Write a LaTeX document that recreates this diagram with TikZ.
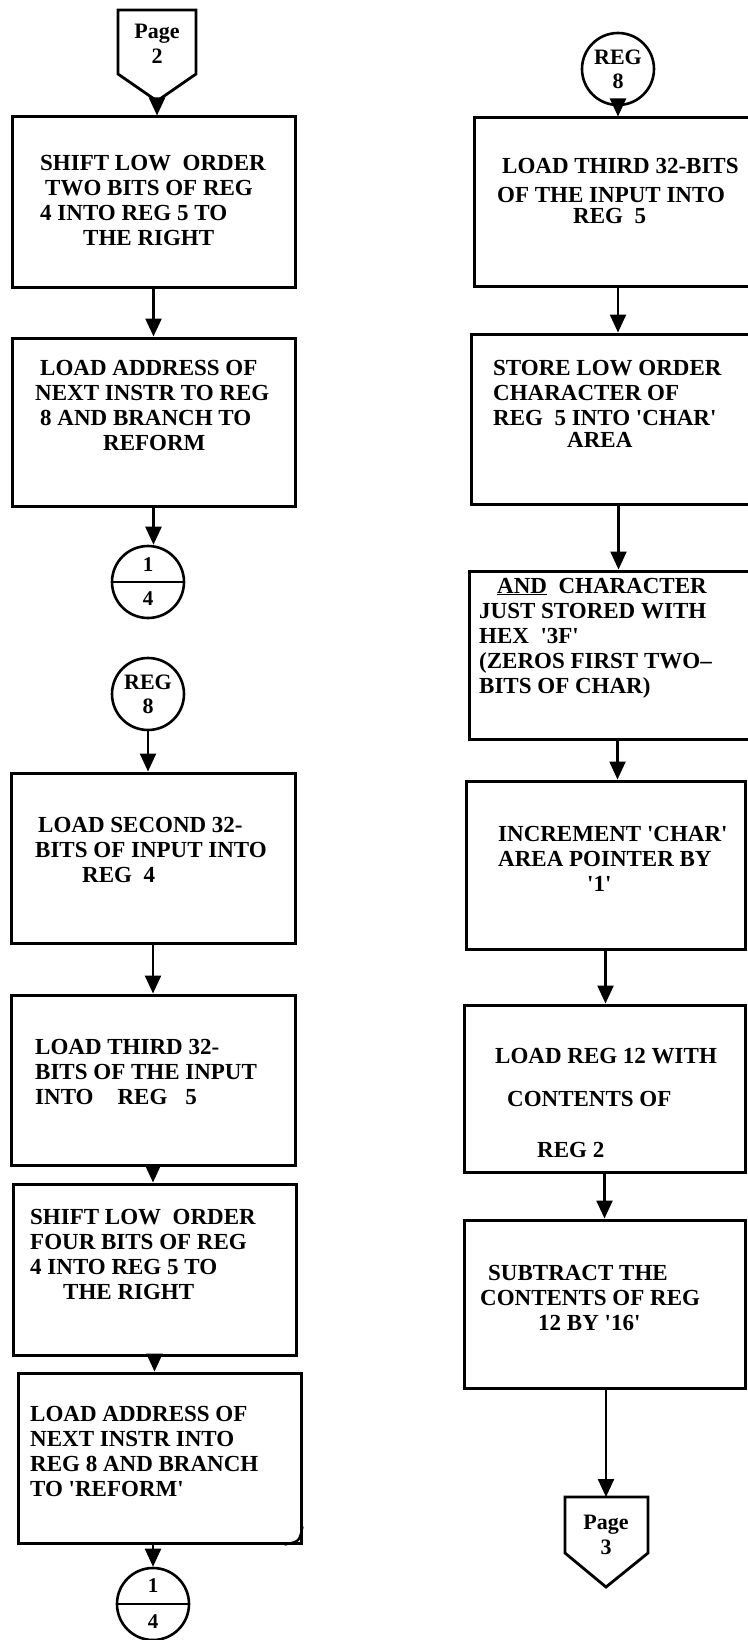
\documentclass[tikz,border=0pt]{standalone}
\usepackage{fontspec}
\setmainfont{Liberation Serif}
\usetikzlibrary{arrows.meta}
\newcommand{\sq}{\textquotesingle}

\begin{document}
\begin{tikzpicture}[x=1pt,y=-1pt]
\tikzset{
  blk/.style={draw, line width=3pt, inner sep=0pt},
  txt/.style={inner sep=0pt, anchor=west, align=left, font=\bfseries\fontsize{23}{25}\selectfont},
  con/.style={draw, circle, line width=2.6pt, minimum size=72pt, inner sep=0pt, align=center},
  arr/.style={line width=2.4pt, -{Triangle[length=18pt,width=16pt]}},
  pg/.style={line width=2.8pt, line join=miter},
}
\path[use as bounding box, fill=white] (0,0) rectangle (747,1640);

%左列
\draw[pg] (118,10) -- (196,10) -- (196,74) -- (157,101) -- (118,74) -- cycle; %Page 2
\node[inner sep=0pt, align=center, font=\bfseries\fontsize{22}{25}\selectfont] (p2) at (157,44) {Page\\2};
\coordinate (p2tip) at (157,101);

\node[blk, minimum width=283pt, minimum height=170pt] (b1) at (153.5,202) {};
\node[txt] (t1) at (40,200) {SHIFT LOW\ \ ORDER\\\hspace*{5pt}TWO BITS OF REG\\4 INTO REG 5 TO\\\hspace*{43pt}THE RIGHT};

\node[blk, minimum width=283pt, minimum height=168pt] (b2) at (153.5,422) {};
\node[txt] (t2) at (35,405) {\hspace*{5pt}LOAD ADDRESS OF\\NEXT INSTR TO REG\\\hspace*{5pt}8 AND BRANCH TO\\\hspace*{68pt}REFORM};

\node[con, font=\bfseries\fontsize{21}{34}\selectfont] (c1) at (148,582) {1\\4};
\draw[line width=2.4pt] (c1.west) -- (c1.east);

\node[con, font=\bfseries\fontsize{22}{24}\selectfont] (r8a) at (148,694) {REG\\8};

\node[blk, minimum width=284pt, minimum height=170pt] (b3) at (153,858) {};
\node[txt] (t3) at (35,850) {\hspace*{3pt}LOAD SECOND 32-\\BITS OF INPUT INTO\\\hspace*{47pt}REG\ \ 4};

\node[blk, minimum width=284pt, minimum height=170pt] (b4) at (153,1080) {};
\node[txt] (t4) at (35,1072) {LOAD THIRD 32-\\BITS OF THE INPUT\\INTO\hspace{24pt}REG\hspace{18pt}5};

\node[blk, minimum width=283pt, minimum height=171pt] (b5) at (154.5,1269.5) {};
\node[txt] (t5) at (30,1254) {SHIFT LOW\ \ ORDER\\FOUR BITS OF REG\\4 INTO REG 5 TO\\\hspace*{33pt}THE RIGHT};

\node[blk, minimum width=283pt, minimum height=170pt] (b6) at (159.5,1458) {};
\node[txt] (t6) at (30,1451) {LOAD ADDRESS OF\\NEXT INSTR INTO\\REG 8 AND BRANCH\\TO \sq REFORM\sq};
\draw[line width=2.4pt] ([xshift=-18pt]b6.south east) .. controls ([xshift=-3pt,yshift=3pt]b6.south east) .. ([yshift=18pt]b6.south east); %角

\node[con, font=\bfseries\fontsize{21}{36}\selectfont] (c2) at (153,1604) {1\\4};
\draw[line width=2.4pt] (c2.west) -- (c2.east);

\draw[arr] (p2tip) -- (p2tip |- b1.north);
\draw[arr] (b1) -- (b2);
\draw[arr] (b2.south) -- (b2.south |- c1.north);
\draw[arr] (r8a.south) -- (r8a.south |- b3.north);
\draw[arr] (b3) -- (b4);
\draw[arr] (b4.south) -- (b4.south |- b5.north);
\draw[arr] (b5.south) -- (b5.south |- b6.north);
\draw[arr] (c2.north |- b6.south) -- (c2.north);

%右列
\node[con, font=\bfseries\fontsize{22}{24}\selectfont] (r8b) at (618,69) {REG\\8};

\node[blk, minimum width=292pt, minimum height=168pt] (rb1) at (620,202) {};
\node[txt] (u1) at (497,191) {\hspace*{5pt}LOAD THIRD 32-BITS\\[4pt]OF THE INPUT INTO\\[-4pt]\hspace*{76pt}REG\ \ 5};

\node[blk, minimum width=295pt, minimum height=170pt] (rb2) at (618.5,419) {};
\node[txt] (u2) at (493,404) {STORE LOW ORDER\\CHARACTER OF\\REG\ \ 5 INTO \sq CHAR\sq\\[-3pt]\hspace*{74pt}AREA};

\node[blk, minimum width=297pt, minimum height=168pt] (rb3) at (617.5,655) {};
\node[txt] (u3) at (479,638) {\hspace*{18pt}\underline{AND}\ \ CHARACTER\\JUST STORED WITH\\HEX\ \ \sq 3F\sq\\(ZEROS FIRST TWO--\\BITS OF CHAR)};

\node[blk, minimum width=279pt, minimum height=168pt] (rb4) at (605.5,865) {};
\node[txt] (u4) at (498,859) {INCREMENT \sq CHAR\sq\\AREA POINTER BY\\\hspace*{89pt}\sq 1\sq};

\node[blk, minimum width=281pt, minimum height=167pt] (rb5) at (604.5,1088.5) {};
\node[txt] (u5) at (495,1103) {LOAD REG 12 WITH\\[18pt]\hspace*{12pt}CONTENTS OF\\[26pt]\hspace*{42pt}REG 2};

\node[blk, minimum width=281pt, minimum height=168pt] (rb6) at (604.5,1304) {};
\node[txt] (u6) at (480,1298) {\hspace*{8pt}SUBTRACT THE\\CONTENTS OF REG\\\hspace*{58pt}12 BY \sq 16\sq};

\draw[pg] (565,1497) -- (648,1497) -- (648,1553) -- (606,1587) -- (565,1553) -- cycle; %Page 3
\node[inner sep=0pt, align=center, font=\bfseries\fontsize{22}{25}\selectfont] (p3) at (606,1535) {Page\\3};
\coordinate (p3top) at (606,1497);

\draw[arr] (r8b) -- (r8b |- rb1.north);
\draw[arr] (r8b |- rb1.south) -- (r8b |- rb2.north);
\draw[arr] (rb2.south) -- (rb2.south |- rb3.north);
\draw[arr] (rb3.south) -- (rb3.south |- rb4.north);
\draw[arr] (rb4.south) -- (rb4.south |- rb5.north);
\draw[arr] (rb5.south) -- (rb5.south |- rb6.north);
\draw[arr] (rb6.south -| p3top) -- (p3top);
\end{tikzpicture}
\end{document}
